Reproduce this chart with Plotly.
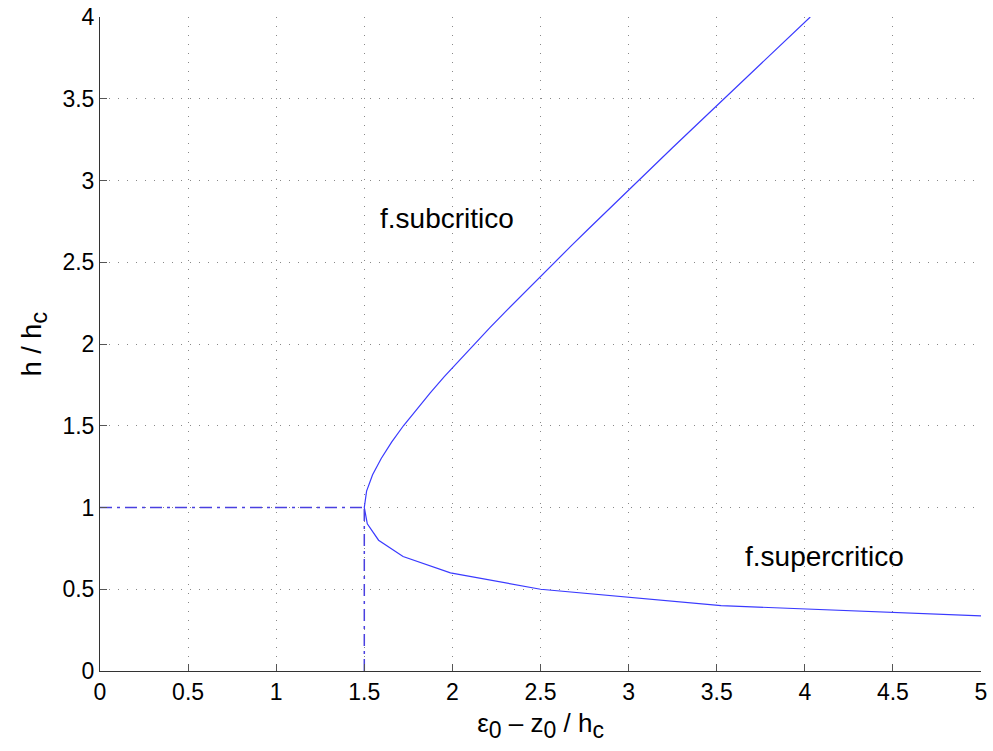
import plotly.graph_objects as go

# Upper branch (subcritical): depth ratio h/hc and specific energy
h_sub = [1.0, 1.1, 1.2, 1.3, 1.4, 1.5, 1.6, 1.7, 1.8, 1.9, 2.0, 2.1, 2.2, 2.3, 2.4, 2.5,
         2.6, 2.7, 2.8, 2.9, 3.0, 3.1, 3.2, 3.3, 3.4, 3.5, 3.6, 3.7, 3.8, 3.9, 4.0]
e_sub = [1.500, 1.513, 1.547, 1.596, 1.655, 1.722, 1.795, 1.873, 1.954, 2.039, 2.125, 2.213,
         2.303, 2.395, 2.487, 2.580, 2.674, 2.769, 2.864, 2.959, 3.056, 3.152, 3.249, 3.346,
         3.443, 3.541, 3.639, 3.737, 3.835, 3.933, 4.031]
# Lower branch (supercritical)
h_sup = [0.3, 0.4, 0.5, 0.6, 0.7, 0.8, 0.9, 1.0]
e_sup = [5.856, 3.525, 2.500, 1.989, 1.720, 1.581, 1.517, 1.500]

# Critical point guides
e_crit = 1.5
h_crit = 1.0

x_ticks = [0, 0.5, 1, 1.5, 2, 2.5, 3, 3.5, 4, 4.5, 5]
y_ticks = [0, 0.5, 1, 1.5, 2, 2.5, 3, 3.5, 4]

labels = ["f.subcritico", "f.supercritico"]
label_x = [1.97, 4.11]
label_y = [2.77, 0.70]

blue = "#3a3aff"
dash_blue = "#4a40e0"
fig = go.Figure()
fig.add_trace(go.Scatter(x=e_sup[:-1] + e_sub, y=h_sup[:-1] + h_sub,
                         mode="lines", line=dict(color=blue, width=1.2), showlegend=False))
fig.add_trace(go.Scatter(x=[0, e_crit], y=[h_crit, h_crit], mode="lines",
                         line=dict(color=dash_blue, width=1.5, dash="12px,5px,3px,5px"),
                         showlegend=False))
fig.add_trace(go.Scatter(x=[e_crit, e_crit], y=[0, h_crit], mode="lines",
                         line=dict(color=dash_blue, width=1.5, dash="12px,5px,3px,5px"),
                         showlegend=False))

for t, x, y in zip(labels, label_x, label_y):
    fig.add_annotation(x=x, y=y, text=t, showarrow=False,
                       font=dict(size=28, color="black", family="Liberation Sans"))

axis_common = dict(showline=True, linecolor="#333", linewidth=1, ticks="inside", ticklen=7,
                   tickcolor="#555", showgrid=True, gridcolor="#888", griddash="1px,8px",
                   gridwidth=1, zeroline=False, mirror=False, automargin=False,
                   tickfont=dict(size=23, color="black", family="Liberation Sans"))


def sub(s, size):
    return f"<sub><span style='font-size:{size}px'>{s}</span></sub>"


fig.update_xaxes(range=[0, 5], tickvals=x_ticks, ticktext=[f"{v:g}" for v in x_ticks],
                 title=dict(text=f"ε{sub('0', 23)} – z{sub('0', 23)} / h{sub('c', 23)}",
                            font=dict(size=26, color="black", family="Liberation Sans"),
                            standoff=10),
                 **axis_common)
fig.update_yaxes(range=[0, 4], tickvals=y_ticks, ticktext=[f"{v:g}" for v in y_ticks],
                 title=dict(text=f"h / h{sub('c', 24)}",
                            font=dict(size=27, color="black", family="Liberation Sans"),
                            standoff=12),
                 **axis_common)

fig.update_layout(width=993, height=751, margin=dict(l=100, r=12, t=17, b=80),
                  plot_bgcolor="white", paper_bgcolor="white",
                  font=dict(family="Liberation Sans"))

fig.write_html("out.html", config={"displayModeBar": False},
               post_script="document.body.style.margin='0';document.body.style.overflow='hidden';")
